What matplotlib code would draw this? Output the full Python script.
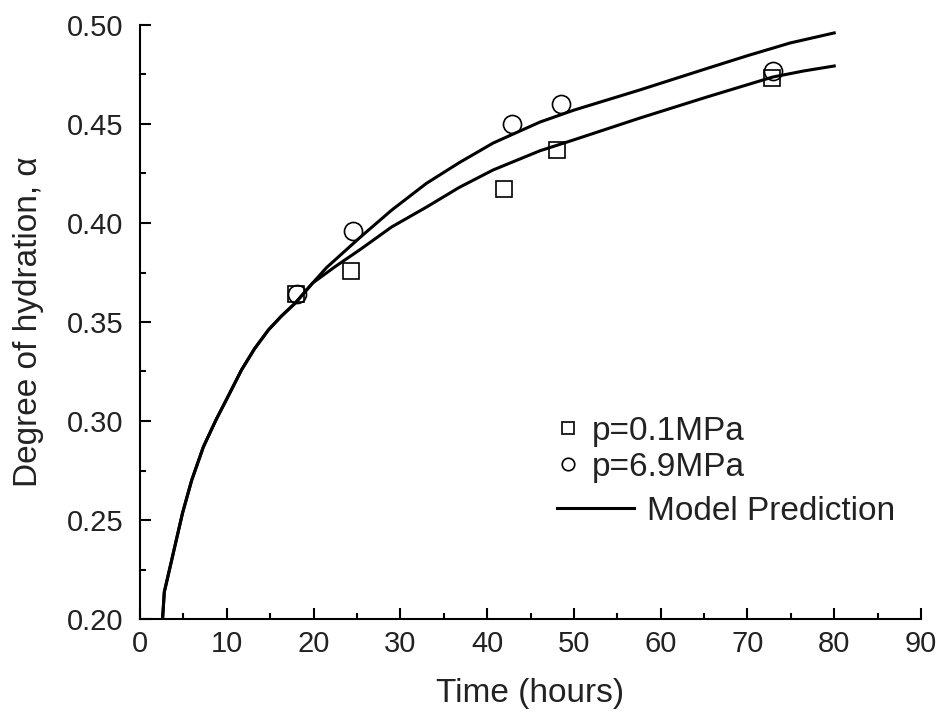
import numpy as np
import matplotlib
matplotlib.use('Agg')
import matplotlib.pyplot as plt
from matplotlib.lines import Line2D
from matplotlib.ticker import MultipleLocator

plt.rcParams['font.family'] = ['Liberation Sans', 'DejaVu Sans']

# measured data
t_low = [18.0, 24.3, 42.0, 48.0, 72.8]
a_low = [0.364, 0.376, 0.417, 0.437, 0.473]
t_high = [18.1, 24.6, 42.9, 48.5, 72.9]
a_high = [0.364, 0.396, 0.450, 0.460, 0.477]

# model curves, shared part up to ~20 h
t_common = [2.6, 2.8, 4.0, 4.9, 5.95, 7.3, 8.75, 10.1, 11.7, 13.2, 14.8, 16.3, 17.9, 19.9]
a_common = [0.200, 0.2136, 0.2364, 0.2535, 0.270, 0.2869, 0.3005, 0.312, 0.3258, 0.3365, 0.346, 0.353, 0.3596, 0.3697]
t_up = [21.5, 23.4, 25.3, 29.0, 33.0, 36.8, 40.7, 46.1, 50.0, 57.6, 65.3, 70.0, 74.9, 80.0]
a_up = [0.3775, 0.385, 0.3925, 0.4065, 0.420, 0.4305, 0.4404, 0.451, 0.457, 0.4672, 0.478, 0.4845, 0.4909, 0.496]
t_dn = [22.5, 25.5, 29.0, 33.0, 36.8, 40.7, 46.1, 50.0, 57.6, 65.3, 72.9, 76.5, 80.0]
a_dn = [0.378, 0.387, 0.398, 0.408, 0.418, 0.4268, 0.4365, 0.442, 0.453, 0.4636, 0.4737, 0.4768, 0.4793]

fig = plt.figure(figsize=(9.4, 7.12), dpi=100)
ax = fig.add_axes([140/940, 93/712, 781/940, 594/712])

ax.plot(t_common + t_up, a_common + a_up, color='black', lw=2.2)
ax.plot(t_common + t_dn, a_common + a_dn, color='black', lw=2.2)
ax.plot(t_low, a_low, ls='none', marker='s', ms=12, mfc='none', mec='black', mew=1.2)
ax.plot(t_high, a_high, ls='none', marker='o', ms=13, mfc='none', mec='black', mew=1.2)

ax.set_xlim(0, 90)
ax.set_ylim(0.20, 0.50)
ax.xaxis.set_major_locator(MultipleLocator(10))
ax.xaxis.set_minor_locator(MultipleLocator(5))
ax.yaxis.set_major_locator(MultipleLocator(0.05))
ax.yaxis.set_minor_locator(MultipleLocator(0.025))
ax.yaxis.set_major_formatter(plt.FormatStrFormatter('%.2f'))

for s in ['top', 'right']:
    ax.spines[s].set_visible(False)
for s in ['left', 'bottom']:
    ax.spines[s].set_linewidth(1.5)

ax.tick_params(which='major', direction='in', length=8, width=1.5, labelsize=21,
               labelcolor='#222222')
ax.tick_params(which='minor', direction='in', length=4, width=1.5)
ax.tick_params(axis='y', which='major', pad=12)
ax.tick_params(axis='x', which='major', pad=8)

ax.set_xlabel('Time (hours)', fontsize=24, labelpad=14, color='#222222')
ax.set_ylabel('Degree of hydration, α', fontsize=24, labelpad=16, color='#222222')

# legend: markers in one block, model line in another (Origin-style layout)
h1 = [Line2D([], [], ls='none', marker='s', ms=9, mfc='none', mec='black', mew=1.2),
      Line2D([], [], ls='none', marker='o', ms=9, mfc='none', mec='black', mew=1.2)]
leg1 = ax.legend(h1, ['p=0.1MPa', 'p=6.9MPa'], loc='upper left', frameon=False,
                 fontsize=24, handlelength=0.8, handletextpad=0.3, borderpad=0,
                 borderaxespad=0, labelspacing=0.15, labelcolor='#222222',
                 bbox_to_anchor=(555/940, 1 - 416/712), bbox_transform=fig.transFigure)
ax.add_artist(leg1)
h2 = [Line2D([], [], color='black', lw=2.2)]
ax.legend(h2, ['Model Prediction'], loc='upper left', frameon=False,
          fontsize=24, handlelength=2.3, handletextpad=0.4, borderpad=0,
          borderaxespad=0, labelcolor='#222222',
          bbox_to_anchor=(557/940, 1 - 496/712), bbox_transform=fig.transFigure)

fig.savefig('out.png', dpi=100)
